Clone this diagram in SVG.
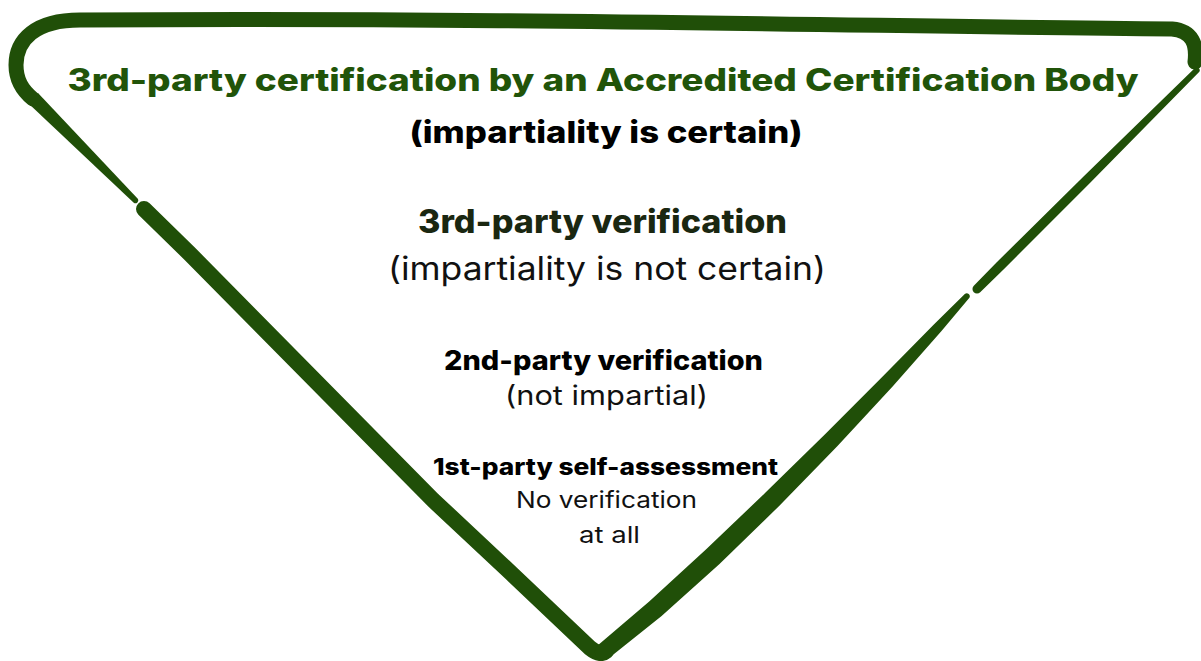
<svg xmlns="http://www.w3.org/2000/svg" width="1201" height="661" viewBox="0 0 1201 661">
<style>
.stk{fill:none;stroke:#204f08;stroke-linecap:round;stroke-linejoin:round}
.fil{fill:#204f08}
text{font-family:Inter,"DejaVu Sans",sans-serif;text-anchor:middle}
.b{font-weight:800}
.r{font-weight:400;fill:#111}
</style>
<rect width="1201" height="661" fill="#fff"/>
<g id="triangle">
<path class="stk" stroke-width="15" d="M1195,62 C1197,45 1193,31 1172,29 C900,27 500,17 80,20 C35,20 16,40 16,65 C16,80 22,90 33,99"/>
<path class="fil" d="M38,93 L138,199 A3,3 0 0 1 134,203 L28,103 Z"/>
<path class="stk" stroke-width="16" d="M144,209 L190,254 L433,500 L512,574 L590,648 Q600,656 606,651"/>
<path class="fil" d="M597.6,645.5 L649.2,601.5 L705.9,549.5 L765.5,492.6 L825.3,434 L882.4,376.8 L934.1,324.3 L964.8,294 A3,3 0 0 1 969.2,298 L941.5,331.1 L892.6,386.4 L837.5,445.9 L778.9,506.2 L719.5,564.1 L661.6,615.9 L608.4,658.6 A8.5,8.5 0 0 1 597.6,645.5 Z"/>
<path class="fil" d="M1194.9,67.9 L1083.8,176.3 L996.5,262.5 L973.8,285.8 A4.5,4.5 0 0 0 980.2,292.2 L1003.5,269.5 L1090.2,182.7 L1199.1,72.1 A3,3 0 0 0 1194.9,67.9 Z"/>
</g>
<g id="level-4">
<text class="b" x="603" y="91" font-size="31" fill="#215409" textLength="1071" lengthAdjust="spacingAndGlyphs">3rd-party certification by an Accredited Certification Body</text>
<text class="b" x="606" y="143" font-size="30" fill="#000" textLength="393" lengthAdjust="spacingAndGlyphs">(impartiality is certain)</text>
</g>
<g id="level-3">
<text class="b" x="602.5" y="233" font-size="32" fill="#1a2711" textLength="369" lengthAdjust="spacingAndGlyphs">3rd-party verification</text>
<text class="r" x="607" y="280" font-size="32" textLength="438" lengthAdjust="spacingAndGlyphs">(impartiality is not certain)</text>
</g>
<g id="level-2">
<text class="b" x="603.5" y="370" font-size="27" fill="#000" textLength="319" lengthAdjust="spacingAndGlyphs">2nd-party verification</text>
<text class="r" x="606.5" y="405" font-size="27" textLength="203" lengthAdjust="spacingAndGlyphs">(not impartial)</text>
</g>
<g id="level-1">
<text class="b" x="605.5" y="475" font-size="23" fill="#000" textLength="345" lengthAdjust="spacingAndGlyphs">1st-party self-assessment</text>
<text class="r" x="606.5" y="508" font-size="23" textLength="181" lengthAdjust="spacingAndGlyphs">No verification</text>
<text class="r" x="609.5" y="543" font-size="23" textLength="61" lengthAdjust="spacingAndGlyphs">at all</text>
</g>
<g id="connectors"/>
</svg>
